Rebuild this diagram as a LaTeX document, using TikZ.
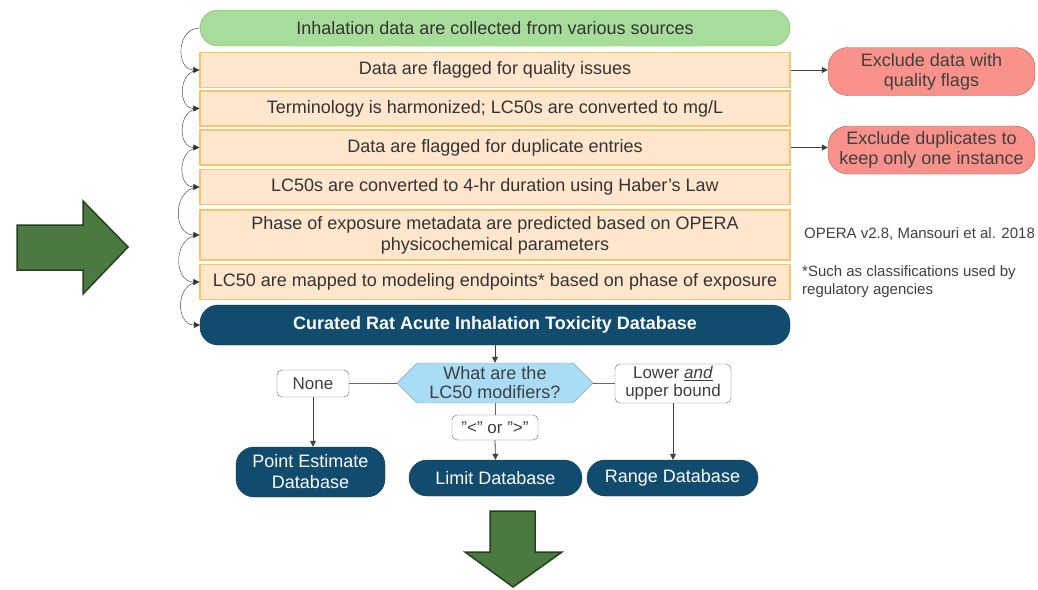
\documentclass[tikz,border=0pt]{standalone}
\usepackage{fontspec}
\setmainfont{Liberation Sans}
\usepackage{xcolor}
\usetikzlibrary{arrows.meta, positioning, shapes.geometric, shapes.symbols}

\definecolor{startfill}{HTML}{A8DC9A}
\definecolor{startline}{HTML}{82B366}
\definecolor{stepfill}{HTML}{FFE6CC}
\definecolor{stepline}{HTML}{F9C36A}
\definecolor{dbblue}{HTML}{114B6E}
\definecolor{dropfill}{HTML}{F8928A}
\definecolor{dropline}{HTML}{B85450}
\definecolor{askfill}{HTML}{A9DCF5}
\definecolor{askline}{HTML}{7AA8C8}
\definecolor{bigfill}{HTML}{4A7A40}
\definecolor{bigline}{HTML}{25401F}

\tikzset{
  startbox/.style={draw=startline, fill=startfill, rounded corners=18pt, minimum width=590pt, minimum height=36pt, inner sep=1pt, font=\fontsize{18}{20}\selectfont, text=black!80},
  stepbox/.style={draw=stepline, fill=stepfill, line width=1.2pt, minimum width=590pt, minimum height=35pt, inner sep=1pt, align=center, font=\fontsize{18}{21}\selectfont, text=black!80},
  dbbox/.style={draw=dbblue!80!black, fill=dbblue, rounded corners=18pt, align=center, inner sep=1pt, text=white, font=\fontsize{18}{21}\selectfont},
  dropbox/.style={draw=dropline, fill=dropfill, rounded corners=20pt, minimum width=207pt, minimum height=48pt, inner sep=1pt, align=center, font=\fontsize{18}{20}\selectfont, text=black!75},
  askbox/.style={signal, signal to=west and east, draw=askline, fill=askfill, minimum width=196pt, minimum height=40pt, inner sep=0pt, align=center, font=\fontsize{18}{19}\selectfont, text=black!75},
  tagbox/.style={draw=black!60, fill=white, rounded corners=5pt, align=center, inner sep=1pt, font=\fontsize{17}{18}\selectfont, text=black!75},
  note/.style={align=left, anchor=west, inner sep=1pt, font=\fontsize{15}{18}\selectfont, text=black!75},
  loopline/.style={draw=black!80, -{Triangle[length=6pt,width=6pt]}, out=180, in=180, looseness=1.45},
  link/.style={draw=black!75, thick, -{Triangle[length=6pt,width=6pt]}},
  plain/.style={draw=black!60, thick},
  bigarrow/.style={draw=bigline, fill=bigfill, line width=1.5pt, line join=miter}
}

\begin{document}
\begin{tikzpicture}[x=1pt, y=-1pt]
    \useasboundingbox (0,0) rectangle (1038,589);

    % Curation steps
    \node[startbox] (s0) at (495,28) {Inhalation data are collected from various sources};
    \node[stepbox] (s1) at (495,70) {Data are flagged for quality issues};
    \node[stepbox] (s2) at (495,108.5) {Terminology is harmonized; LC50s are converted to mg/L};
    \node[stepbox] (s3) at (495,147.5) {Data are flagged for duplicate entries};
    \node[stepbox] (s4) at (495,187) {LC50s are converted to 4-hr duration using Haber\symbol{"27}s Law};
    \node[stepbox, minimum height=50pt] (s5) at (495,235) {Phase of exposure metadata are predicted based on OPERA\\physicochemical parameters};
    \node[stepbox] (s6) at (495,282) {LC50 are mapped to modeling endpoints* based on phase of exposure};
    \node[dbbox, minimum width=590pt, minimum height=40pt, font=\fontsize{18}{21}\selectfont\bfseries] (db) at (495,325) {Curated Rat Acute Inhalation Toxicity Database};

    \draw[loopline] (s0.west) to (s1.west);
    \draw[loopline] (s1.west) to (s2.west);
    \draw[loopline] (s2.west) to (s3.west);
    \draw[loopline] (s3.west) to (s4.west);
    \draw[loopline] (s4.west) to (s5.west);
    \draw[loopline] (s5.west) to (s6.west);
    \draw[loopline] (s6.west) to (db.west);

    % Exclusions and notes
    \node[dropbox] (x1) at (931.5,71.5) {Exclude data with\\quality flags};
    \node[dropbox] (x2) at (931.5,150) {Exclude duplicates to\\keep only one instance};
    \draw[link] (s1.east) -- (x1.west |- s1.east);
    \draw[link] (s3.east) -- (x2.west |- s3.east);

    \node[note] (opera) at (803,234) {OPERA v2.8, Mansouri et al. 2018};
    \node[note] (such) at (801,282) {*Such as classifications used by\\regulatory agencies};

    % Split by modifiers
    \node[askbox] (ask) at (495,383) {What are the\\LC50 modifiers?};
    \draw[link] (db.south -| ask.north) -- (ask.north);

    \node[tagbox, minimum width=72pt, minimum height=27pt] (none) at (313,383.5) {None};
    \node[tagbox, minimum width=86pt, minimum height=25pt] (sign) at (495,427.5) {\symbol{"22}<\symbol{"22} or \symbol{"22}>\symbol{"22}};
    \node[tagbox, minimum width=116pt, minimum height=39pt] (both) at (673,383.5) {Lower \underline{\textit{and}}\\upper bound};

    \node[dbbox, minimum width=149pt, minimum height=50pt] (point) at (310.5,472) {Point Estimate\\Database};
    \node[dbbox, minimum width=173pt, minimum height=36pt] (limit) at (495.5,478) {Limit Database};
    \node[dbbox, minimum width=171pt, minimum height=36pt] (range) at (672.5,478) {Range Database};

    \draw[plain] (ask.west) -- (none.east |- ask.west);
    \draw[plain] (ask.south) -- (sign.north);
    \draw[plain] (ask.east) -- (both.west |- ask.east);
    \draw[link] (none.south) -- (none.south |- point.north);
    \draw[link] (sign.south) -- (limit.north);
    \draw[link] (both.south) -- (both.south |- range.north);

    % Big arrows
    \draw[bigarrow] (17,225) -- (83,225) -- (83,201) -- (128,247) -- (83,294) -- (83,270) -- (17,270) -- cycle;
    \draw[bigarrow] (490,511) -- (535,511) -- (535,552) -- (562,552) -- (513,587) -- (465,552) -- (490,552) -- cycle;
\end{tikzpicture}
\end{document}
